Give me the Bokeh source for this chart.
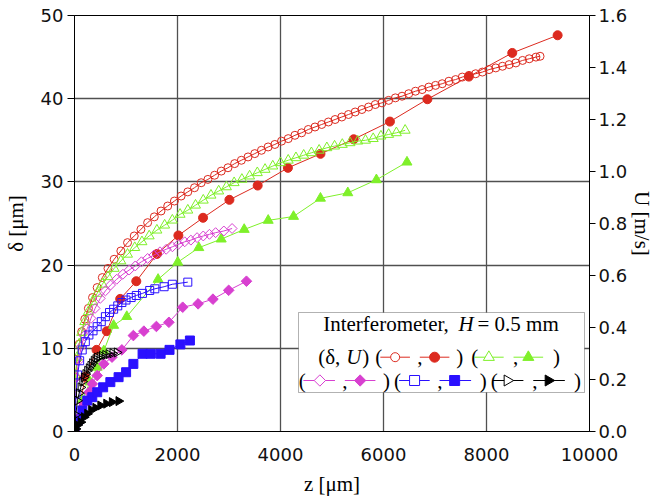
import numpy as np
from bokeh.plotting import figure
from bokeh.models import (Range1d, LinearAxis, FixedTicker, Label, BoxAnnotation,
                          PrintfTickFormatter)
from bokeh.embed import file_html
from bokeh.resources import INLINE

# ---------------- data ----------------
# z in micrometres, delta in micrometres (left axis), U in m/s (right axis)
z_red_d = [0, 20, 50, 90, 140, 200, 270, 350, 440, 540, 650, 770, 900, 1030, 1160, 1290, 1420, 1550,
           1680, 1810, 1940, 2070, 2200, 2330, 2460, 2590, 2720, 2850, 2980, 3110, 3240, 3370, 3500,
           3630, 3760, 3890, 4020, 4150, 4280, 4410, 4540, 4670, 4800, 4930, 5060, 5190, 5320, 5450,
           5580, 5710, 5840, 5970, 6100, 6230, 6360, 6490, 6620, 6750, 6880, 7010, 7140, 7270, 7400,
           7530, 7660, 7790, 7920, 8050, 8180, 8310, 8440, 8570, 8700, 8830, 8960, 9040]
d_red = [0, 6.5, 8.7, 10.5, 12.0, 13.5, 14.8, 16.1, 17.3, 18.5, 19.6, 20.7, 21.7, 22.7, 23.5, 24.3,
         25.1, 25.8, 26.5, 27.1, 27.7, 28.3, 28.8, 29.3, 29.9, 30.3, 30.8, 31.3, 31.7, 32.2, 32.6,
         33.0, 33.4, 33.8, 34.2, 34.5, 34.9, 35.2, 35.6, 35.9, 36.3, 36.6, 36.9, 37.2, 37.5, 37.8,
         38.1, 38.4, 38.7, 39.0, 39.3, 39.5, 39.8, 40.1, 40.3, 40.6, 40.9, 41.1, 41.4, 41.6, 41.8,
         42.1, 42.3, 42.6, 42.8, 43.0, 43.2, 43.5, 43.7, 43.9, 44.1, 44.3, 44.6, 44.8, 45.0, 45.1]
z_red_u = [0, 210, 428, 626, 887, 1200, 1603, 2017, 2496, 3008, 3557, 4144, 4776, 5421, 6125, 6852,
           7657, 8500, 9381]
u_red = [0, 0.21, 0.314, 0.386, 0.510, 0.578, 0.683, 0.754, 0.822, 0.891, 0.946, 1.014, 1.068,
         1.124, 1.192, 1.278, 1.365, 1.456, 1.524]

z_grn_d = [0, 20, 50, 90, 140, 200, 270, 350, 440, 540, 650, 770, 900, 1030, 1170, 1310, 1450, 1600,
           1750, 1900, 2050, 2200, 2350, 2500, 2650, 2800, 2950, 3100, 3250, 3400, 3550, 3700, 3850,
           4000, 4150, 4300, 4450, 4600, 4750, 4900, 5050, 5200, 5350, 5500, 5650, 5800, 5950, 6100,
           6250, 6420]
d_grn = [0, 6.8, 8.9, 10.5, 11.9, 13.2, 14.4, 15.6, 16.6, 17.7, 18.6, 19.6, 20.5, 21.3, 22.1, 22.8,
         23.5, 24.2, 24.8, 25.4, 26.1, 26.6, 27.2, 27.8, 28.4, 28.9, 29.4, 29.9, 30.3, 30.7, 31.1,
         31.5, 31.9, 32.3, 32.6, 32.9, 33.2, 33.5, 33.8, 34.1, 34.3, 34.5, 34.7, 34.9, 35.0, 35.2,
         35.5, 35.7, 35.9, 36.2]
z_grn_u = [0, 150, 300, 441, 569, 760, 1015, 1623, 2005, 2414, 2849, 3295, 3761, 4253, 4776, 5307,
           5862, 6456]
u_grn = [0, 0.12, 0.19, 0.247, 0.31, 0.408, 0.442, 0.585, 0.651, 0.707, 0.740, 0.777, 0.812, 0.827,
         0.897, 0.918, 0.968, 1.036]

z_mag_d = [0, 40, 80, 130, 190, 250, 320, 400, 500, 600, 700, 820, 940, 1060, 1180, 1300, 1420, 1540,
           1660, 1780, 1900, 2020, 2140, 2260, 2380, 2500, 2620, 2740, 2900, 3060]
d_mag = [0, 6.5, 8.5, 10.2, 11.5, 12.4, 13.6, 14.8, 16.0, 16.9, 17.6, 18.3, 18.9, 19.4, 19.9, 20.4,
         20.8, 21.2, 21.6, 21.9, 22.2, 22.5, 22.8, 23.0, 23.3, 23.5, 23.7, 23.9, 24.1, 24.4]
z_mag_u = [0, 90, 185, 281, 345, 441, 569, 728, 920, 1143, 1347, 1590, 1833, 2101, 2400, 2688, 2994,
           3339]
u_mag = [0, 0.055, 0.107, 0.151, 0.183, 0.215, 0.260, 0.286, 0.314, 0.369, 0.386, 0.404, 0.420,
         0.478, 0.491, 0.509, 0.543, 0.578]

z_blu_d = [0, 30, 60, 100, 150, 210, 280, 360, 440, 520, 600, 680, 760, 840, 920, 1000, 1100, 1200,
           1320, 1460, 1560, 1740, 1900, 2200]
d_blu = [0, 4.5, 6.8, 8.5, 9.8, 10.8, 11.6, 12.1, 12.6, 13.2, 13.8, 14.3, 14.7, 15.1, 15.5, 15.8,
         16.1, 16.35, 16.6, 16.95, 17.15, 17.4, 17.7, 17.95]
z_blu_u = [0, 57, 153, 249, 345, 441, 556, 696, 856, 1002, 1143, 1322, 1481, 1672, 1845, 2056, 2241]
u_blu = [0, 0.042, 0.081, 0.119, 0.132, 0.151, 0.170, 0.190, 0.209, 0.228, 0.260, 0.299, 0.299,
         0.299, 0.314, 0.335, 0.350]

z_blk_d = [0, 25, 57, 90, 121, 155, 185, 215, 249, 280, 312, 345, 377, 410, 441, 490, 536, 600, 664,
           740, 824]
d_blk = [0, 2.0, 3.7, 4.6, 5.3, 6.0, 6.5, 6.9, 7.3, 7.6, 7.9, 8.2, 8.5, 8.7, 8.9, 9.0, 9.1, 9.2, 9.3,
         9.4, 9.5]
z_blk_u = [0, 25, 60, 121, 185, 249, 326, 408, 504, 619, 728, 856]
u_blk = [0, 0.010, 0.025, 0.036, 0.055, 0.068, 0.083, 0.091, 0.100, 0.107, 0.113, 0.117]

x_ticks = [0, 2000, 4000, 6000, 8000, 10000]
d_ticks = [0, 10, 20, 30, 40, 50]
u_ticks = [0.0, 0.2, 0.4, 0.6, 0.8, 1.0, 1.2, 1.4, 1.6]

RED, GRN, MAG, BLU, BLK = "#dc2a1f", "#7ff02a", "#d840d0", "#2a10ff", "#000000"

# ---------------- figure ----------------
W, H = 657, 503
ML, MR, MT, MB = 73, 62, 15, 72
FW, FH = W - ML - MR, H - MT - MB
XMAX, YMAX, UMAX = 10000, 50, 1.6

p = figure(width=W, height=H, output_backend="svg", toolbar_location=None,
           x_range=Range1d(0, XMAX), y_range=Range1d(0, YMAX),
           min_border_left=ML, min_border_right=MR, min_border_top=MT, min_border_bottom=MB,
           background_fill_color="white", border_fill_color="white")
p.extra_y_ranges = {"U": Range1d(0, UMAX)}
p.outline_line_color = "black"
p.outline_line_width = 1

TICK_FONT = "DejaVu Sans"
TICK_SIZE = "18px"
SERIF = "Liberation Serif"
AX_SIZE = "21px"

xax = p.xaxis[0]
dax = p.yaxis[0]
uax = LinearAxis(y_range_name="U")
p.add_layout(uax, "right")

xax.ticker = FixedTicker(ticks=x_ticks)
dax.ticker = FixedTicker(ticks=d_ticks)
uax.ticker = FixedTicker(ticks=u_ticks)
uax.formatter = PrintfTickFormatter(format="%.1f")

for ax in (xax, dax, uax):
    ax.major_label_text_font = TICK_FONT
    ax.major_label_text_font_size = TICK_SIZE
    ax.major_label_text_color = "#111111"
    ax.minor_tick_line_color = None
    ax.axis_line_color = "black"
    ax.major_tick_line_color = "black"
    ax.major_tick_in = 0
    ax.axis_label_text_font = SERIF
    ax.axis_label_text_font_size = AX_SIZE
    ax.axis_label_text_font_style = "normal"
    ax.axis_label_text_color = "black"

xax.major_tick_out = 0
xax.major_label_standoff = 16
xax.axis_label = "z [μm]"
xax.axis_label_standoff = 8
dax.major_tick_out = 7
dax.major_label_standoff = 4
dax.axis_label = "δ [μm]"
dax.axis_label_standoff = 10
uax.major_tick_out = 6
uax.major_label_standoff = 3
uax.axis_label = "U [m/s]"
uax.axis_label_standoff = 0

p.xgrid.ticker = FixedTicker(ticks=x_ticks[1:-1])
p.ygrid.ticker = FixedTicker(ticks=d_ticks[1:-1])
for g in (p.xgrid[0], p.ygrid[0]):
    g.grid_line_color = "#505050"
    g.grid_line_width = 1.3

# ---------------- series ----------------
series = [
    (z_red_d, d_red, z_red_u, u_red, RED, "circle", 0.0, 8, 9),
    (z_grn_d, d_grn, z_grn_u, u_grn, GRN, "triangle", 0.0, 10, 10),
    (z_mag_d, d_mag, z_mag_u, u_mag, MAG, "square", np.pi / 4, 7, 7.5),
    (z_blu_d, d_blu, z_blu_u, u_blu, BLU, "square", 0.0, 8, 9),
    (z_blk_d, d_blk, z_blk_u, u_blk, BLK, "triangle", -np.pi / 2, 9, 9),
]
for zd, dd, zu, uu, col, mk, ang, s_open, s_fill in series:
    p.line(zd, dd, line_color=col, line_width=1)
    p.scatter(zd, dd, marker=mk, angle=ang, size=s_open, line_color=col, line_width=1,
              fill_color=None)
    p.line(zu, uu, line_color=col, line_width=1, y_range_name="U")
    p.scatter(zu, uu, marker=mk, angle=ang, size=s_fill, line_color=col, line_width=1,
              fill_color=col, y_range_name="U")

# ---------------- legend (frame-relative screen units) ----------------
def lab(x, y, text, size="21px", style="normal", align="left", base="middle", angle=0.0,
        font=SERIF):
    p.add_layout(Label(x=x, y=y, x_units="screen", y_units="screen", text=text,
                       text_font=font, text_font_size=size, text_font_style=style,
                       text_align=align, text_baseline=base, angle=angle, angle_units="rad",
                       text_color="black"))

p.add_layout(BoxAnnotation(left=224, right=510, bottom=39, top=119,
                           left_units="screen", right_units="screen",
                           bottom_units="screen", top_units="screen",
                           fill_color="white", fill_alpha=1.0, line_color="black",
                           line_width=1, level="annotation"))
ROW1, ROW2, ROW3 = 108, 74.3, 51
lab(248.7, ROW1, "Interferometer,")
lab(384, ROW1, "H", style="italic")
lab(403, ROW1, "= 0.5 mm")
lab(243.7, ROW2, "(δ,")
lab(279.3, ROW2, "U", style="italic", align="center")
for sx, t in [(291.3, ")"), (304.3, "("), (345.3, ","), (385.3, ")"), (400.3, "("), (441, ","),
              (482, ")")]:
    lab(sx, ROW2, t, align="center")
for sx, t in [(227.7, "("), (270.3, ","), (312, ")"), (323, "("), (365.3, ","), (408.7, ")"),
              (419.7, "("), (460.3, ","), (503, ")")]:
    lab(sx, ROW3, t, align="center")

def sx2x(sx):
    return sx * XMAX / FW

def sy2y(sy):
    return sy * YMAX / FH

keys = [  # (x0, x1, marker x, y, colour, marker, angle, filled, size)
    (310, 340, 325, ROW2, RED, "circle", 0.0, False, 9),
    (350, 380, 365, ROW2, RED, "circle", 0.0, True, 10),
    (405, 435, 420, ROW2, GRN, "triangle", 0.0, False, 11),
    (445, 475, 460, ROW2, GRN, "triangle", 0.0, True, 11),
    (232, 264, 248.7, ROW3, MAG, "square", np.pi / 4, False, 8),
    (274, 305, 289.5, ROW3, MAG, "square", np.pi / 4, True, 8),
    (329, 360, 344.7, ROW3, BLU, "square", 0.0, False, 10),
    (370, 402, 385.3, ROW3, BLU, "square", 0.0, True, 10),
    (424, 455, 438.7, ROW3, BLK, "triangle", -np.pi / 2, False, 11),
    (465, 497, 480.3, ROW3, BLK, "triangle", -np.pi / 2, True, 11),
]
for x0, x1, xm, y, col, mk, ang, filled, sz in keys:
    r = p.segment(x0=[sx2x(x0)], y0=[sy2y(y)], x1=[sx2x(x1)], y1=[sy2y(y)],
                  line_color=col, line_width=1)
    r.level = "overlay"
    r2 = p.scatter([sx2x(xm)], [sy2y(y)], marker=mk, angle=ang, size=sz, line_color=col,
                   line_width=1, fill_color=(col if filled else "white"))
    r2.level = "overlay"

open("out.html", "w").write(file_html(p, INLINE))
